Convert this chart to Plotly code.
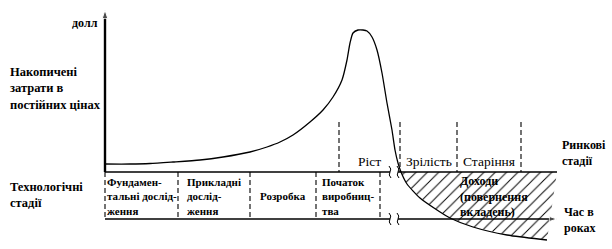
import plotly.graph_objects as go

# ---- data (t = time units from origin, v = cumulative value; baseline v=0) ----
curve_t = [0, 25, 45, 68, 95, 118, 145, 162, 175, 188, 205, 218, 228, 237, 242, 245,
           248, 253, 258, 262, 267, 272, 277, 282, 287, 290, 293, 296, 302, 315, 332,
           345, 368, 402, 442]
curve_v = [8, 8, 8.5, 10, 12, 15, 20, 25, 30, 37, 50, 62, 75, 92, 112, 129,
           139, 142, 142, 141, 135, 122, 99, 69, 42, 22, 9, 0, -12, -26, -38,
           -46, -55, -63, -68]

tech_bounds = [0, 73, 145, 211, 275]
tech_labels = ["Фундамен-<br>тальні дослід-<br>ження", "Прикладні<br>дослід-<br>ження",
               "Розробка", "Початок<br>виробниц-<br>тва"]
market_bounds = [234, 295, 352, 416]
market_labels = ["Ріст", "Зрілість", "Старіння"]
break_t = [285, 293]
axis_end_t = 452
axis_top_v = 162
time_axis_v = -47
market_line_top = 50

FONT = "Liberation Serif"
INK = "#000000"

fig = go.Figure()
shapes = []
annotations = []

# hatched income area (curve below baseline)
hx = [t for t, v in zip(curve_t, curve_v) if v <= 0]
hy = [v for v in curve_v if v <= 0]
poly_x = hx + [axis_end_t, hx[0]]
poly_y = hy + [0, 0]
fig.add_trace(go.Scatter(
    x=poly_x, y=poly_y, mode="lines", fill="toself",
    fillcolor="rgba(0,0,0,0)", line=dict(width=0, color="rgba(0,0,0,0)"),
    fillpattern=dict(shape="/", fgcolor=INK, bgcolor="rgba(0,0,0,0)", size=8,
                     solidity=0.12, fillmode="replace"),
    hoverinfo="skip", showlegend=False))

# curve
fig.add_trace(go.Scatter(x=curve_t, y=curve_v, mode="lines",
                         line=dict(color=INK, width=1.3, shape="spline", smoothing=0.6),
                         hoverinfo="skip", showlegend=False))

# vertical axis (solid above baseline) with arrow
fig.add_trace(go.Scatter(x=[0, 0], y=[0, axis_top_v], mode="lines+markers",
                         line=dict(color=INK, width=2.4),
                         marker=dict(symbol="arrow", size=[0, 9], angleref="previous", color=INK),
                         hoverinfo="skip", showlegend=False))

# time axis with arrow (after break)
fig.add_trace(go.Scatter(x=[break_t[1], axis_end_t], y=[time_axis_v, time_axis_v], mode="lines+markers",
                         line=dict(color=INK, width=1.5),
                         marker=dict(symbol="arrow", size=[0, 8], angleref="previous", color=INK),
                         hoverinfo="skip", showlegend=False))

def line(x0, y0, x1, y1, width=1.5, dash=None):
    d = dict(type="line", xref="x", yref="y", x0=x0, y0=y0, x1=x1, y1=y1,
             line=dict(color=INK, width=width))
    if dash:
        d["line"]["dash"] = dash
    shapes.append(d)

# baseline and time axis (before break), baseline after break
line(0, 0, break_t[0], 0)
line(break_t[1], 0, axis_end_t, 0)
line(0, time_axis_v, break_t[0], time_axis_v)

# break marks
for bt in break_t:
    for yv in (0, time_axis_v):
        shapes.append(dict(type="path", xref="x", yref="y",
                           path=f"M {bt-1},{yv+6} Q {bt+2},{yv+3} {bt},{yv} Q {bt-2},{yv-3} {bt+1},{yv-6}",
                           line=dict(color=INK, width=1)))

# tech stage dashed boundaries
for b in tech_bounds:
    line(b, 0, b, time_axis_v, width=1.1, dash="5px,3px")

# market stage dashed boundaries
for b in market_bounds:
    line(b, market_line_top, b, 0, width=1.1, dash="5px,3px")

def ann(x, y, text, size, xanchor="center", align="center", bold=True):
    annotations.append(dict(x=x, y=y, xref="x", yref="y", text=(f"<b>{text}</b>" if bold else text),
                            showarrow=False, xanchor=xanchor, yanchor="middle", align=align,
                            font=dict(family=FONT, size=size, color=INK)))

# tech stage labels
for i, lab in enumerate(tech_labels):
    cx = (tech_bounds[i] + (tech_bounds[i + 1] if i + 1 < len(tech_bounds) else break_t[0] - 5)) / 2
    ann(cx, -24, lab, 11, align="left")

# market stage labels
for i, lab in enumerate(market_labels):
    cx = (market_bounds[i] + market_bounds[i + 1]) / 2
    ann(cx, 11, lab, 13.5, bold=False)

ann(-5, 149, "долл", 12, xanchor="right")
ann(-97, 84, "Накопичені<br>затрати в<br>постійних цінах", 12.5, xanchor="left", align="left")
ann(-97, -23, "Технологічні<br>стадії", 12.5, xanchor="left", align="left")
ann(455, 19, "Ринкові<br>стадії", 12, xanchor="left", align="left")
ann(457, -48, "Час в<br>роках", 12, xanchor="left", align="left")
ann(market_bounds[2] + 1, -24, "Доходи<br>(повернення<br>вкладень)", 12, xanchor="left", align="left")

fig.update_layout(
    width=612, height=249, autosize=False,
    margin=dict(l=0, r=0, t=0, b=0, pad=0),
    paper_bgcolor="white", plot_bgcolor="white",
    font=dict(family=FONT),
    xaxis=dict(range=[-105, 507], visible=False, fixedrange=True),
    yaxis=dict(range=[-77, 172], visible=False, fixedrange=True),
    shapes=shapes, annotations=annotations, showlegend=False,
)

fig.write_html("out.html")
